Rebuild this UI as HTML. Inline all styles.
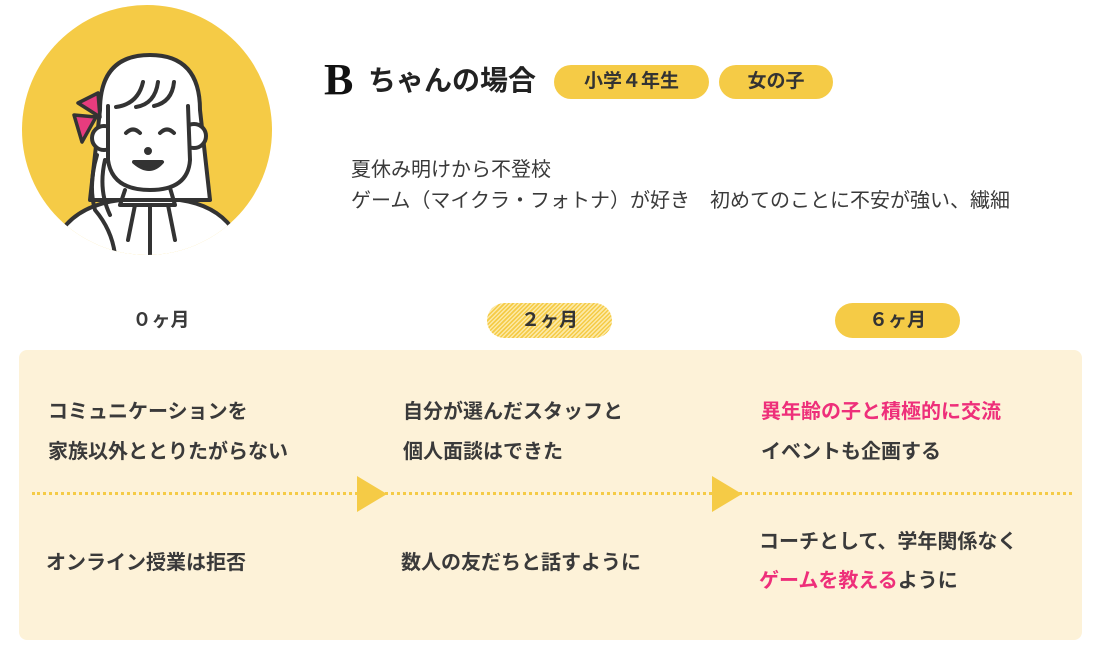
<!DOCTYPE html>
<html><head><meta charset="utf-8"><style>
body{margin:0;width:1100px;height:651px;background:#fff;position:relative;overflow:hidden;font-family:"Liberation Sans","Noto Sans CJK JP",sans-serif;color:#333}
.a{position:absolute;white-space:nowrap}
.t{font-size:20px;font-weight:bold;color:#3a3a3a;line-height:20px}
.pill{position:absolute;background:#f5cb46;border-radius:18px;text-align:center;font-size:19px;font-weight:bold;color:#333}
.pk{color:#ee2f7a}
</style></head><body>
<svg class="a" style="left:0;top:0" width="300" height="270" viewBox="0 0 300 270">
<defs><clipPath id="c"><circle cx="147" cy="130" r="125"/></clipPath></defs>
<circle cx="147" cy="130" r="125" fill="#f5cb46"/>
<g clip-path="url(#c)" stroke="#333" stroke-width="4" fill="#fff" stroke-linecap="round" stroke-linejoin="round">
<path d="M62 230 Q80 205 120 200 L180 200 Q215 205 232 228 L232 270 L62 270Z"/>
<path d="M100 110 Q100 55 150 55 Q200 55 200 110 L210 200 L90 200Z"/>
<circle cx="104" cy="138" r="12"/><circle cx="194" cy="136" r="12"/>
<path d="M108 106 L108 160 Q112 190 150 190 Q188 190 190 160 L190 106Z" stroke="none"/>
<path d="M108 106 L108 160 Q112 190 150 190 Q188 190 190 160 L188 106"/>
<path d="M116 107 Q138 104 143 82 M136 107 Q155 104 158 82 M154 106 Q172 102 174 82" fill="none"/>
<path d="M126 133 Q133 126 140 133 M160 133 Q167 126 174 133" fill="none"/>
<circle cx="148" cy="151" r="2" fill="#333"/>
<path d="M134 162 Q150 176 162 162Z" fill="#333"/>
<path d="M97 155 Q88 185 95 210 Q112 230 115 255 M105 160 Q98 190 110 215" fill="none"/>
<path d="M125 190 L120 205 L175 205 L170 188" fill="none"/>
<path d="M135 205 L128 240 M150 205 L150 255 M168 205 L175 240" fill="none"/>
</g>
<path d="M78 103 L98 93 L100 117Z M74 115 L96 117 L82 142Z" fill="#e73c7e" stroke="#333" stroke-width="3.5" stroke-linejoin="round"/>
</svg>
<div class="a" style="left:324px;top:55px;font-family:'Liberation Serif','Noto Serif CJK SC',serif;font-size:44px;font-weight:bold;color:#111;line-height:50px">B</div>
<div class="a" style="left:368px;top:63px;font-size:28px;font-weight:bold;color:#222;line-height:36px">ちゃんの場合</div>
<div class="pill" style="left:554px;top:65px;width:155px;height:34px;line-height:34px">小学４年生</div>
<div class="pill" style="left:719px;top:65px;width:114px;height:34px;line-height:34px">女の子</div>
<div class="a" style="left:351px;top:155px;font-size:20px;color:#3a3a3a;line-height:31px">夏休み明けから不登校<br>ゲーム（マイクラ・フォトナ）が好き　初めてのことに不安が強い、繊細</div>
<div class="a t" style="left:0;width:322px;top:311px;text-align:center;font-size:19px">０ヶ月</div>
<div class="pill" style="left:487px;top:303px;width:125px;height:35px;line-height:35px;background:repeating-linear-gradient(135deg,#f5cb46 0 1.5px,#fce9a6 1.5px 3px)">２ヶ月</div>
<div class="pill" style="left:835px;top:303px;width:125px;height:35px;line-height:35px">６ヶ月</div>
<div class="a" style="left:19px;top:350px;width:1063px;height:290px;background:#fdf2d8;border-radius:8px"></div>
<div class="a" style="left:32px;top:492px;width:1040px;border-top:3px dotted #f5cb46"></div>
<svg class="a" style="left:357px;top:476px" width="30" height="36"><path d="M0 0L30 18L0 36Z" fill="#f5cb46"/></svg>
<svg class="a" style="left:712px;top:476px" width="30" height="36"><path d="M0 0L30 18L0 36Z" fill="#f5cb46"/></svg>
<div class="a t" style="left:48px;top:392px;line-height:40px">コミュニケーションを<br>家族以外ととりたがらない</div>
<div class="a t" style="left:46px;top:553px">オンライン授業は拒否</div>
<div class="a t" style="left:403px;top:392px;line-height:40px">自分が選んだスタッフと<br>個人面談はできた</div>
<div class="a t" style="left:401px;top:553px">数人の友だちと話すように</div>
<div class="a t" style="left:761px;top:392px;line-height:40px"><span class="pk">異年齢の子と積極的に交流</span><br>イベントも企画する</div>
<div class="a t" style="left:759px;top:523px;line-height:39px">コーチとして、学年関係なく<br><span class="pk">ゲームを教える</span>ように</div>
</body></html>
